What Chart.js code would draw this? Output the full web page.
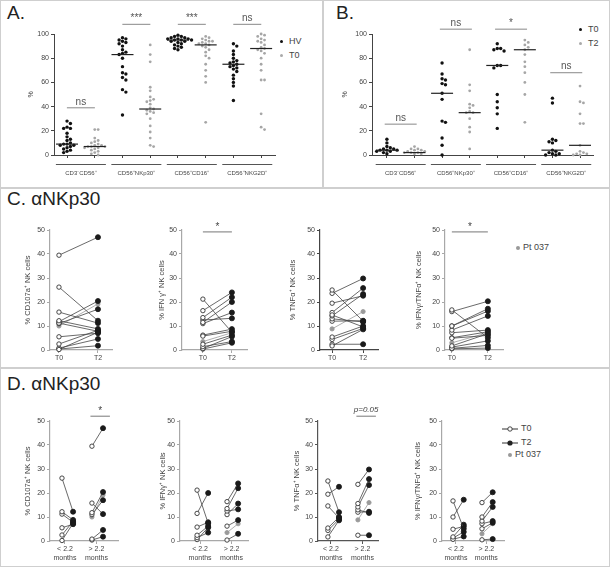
<!DOCTYPE html>
<html>
<head>
<meta charset="utf-8">
<script src="https://cdn.jsdelivr.net/npm/chart.js@4.4.0/dist/chart.umd.min.js"></script>
<style>
body { margin: 0; background: #fff; font-family: "Liberation Sans", Arial, sans-serif; }
#fig { position: relative; width: 610px; height: 568px; overflow: hidden; background: #fff; }
#fig canvas { position: absolute; }
.box { position: absolute; border: 1.5px solid #cfcfcf; box-sizing: border-box; }
.ttl { position: absolute; font-size: 19px; color: #222; line-height: 20px; white-space: nowrap; }
.leg { position: absolute; font-size: 9px; color: #444; line-height: 10px; white-space: nowrap; }
.dot { display: inline-block; width: 3px; height: 3px; border-radius: 50%; margin-right: 6px; vertical-align: middle; }
</style>
</head>
<body>
<div id="fig">
  <div class="box" style="left:0;top:0;width:324px;height:189px"></div>
  <div class="box" style="left:322px;top:0;width:288px;height:189px"></div>
  <div class="box" style="left:0;top:187px;width:610px;height:182px"></div>
  <div class="box" style="left:0;top:367px;width:610px;height:200px"></div>

  <div class="ttl" style="left:7px;top:3px">A.</div>
  <div class="ttl" style="left:336px;top:3px">B.</div>
  <div class="ttl" style="left:7px;top:189px">C. αNKp30</div>
  <div class="ttl" style="left:7px;top:374px">D. αNKp30</div>

  <div class="leg" style="left:280px;top:36px"><span class="dot" style="background:#111"></span>HV</div>
  <div class="leg" style="left:280px;top:50px"><span class="dot" style="background:#aaa"></span>T0</div>
  <div class="leg" style="left:579px;top:24px"><span class="dot" style="background:#111"></span>T0</div>
  <div class="leg" style="left:579px;top:38px"><span class="dot" style="background:#aaa"></span>T2</div>

  <div class="leg" style="left:516px;top:242px"><span class="dot" style="background:#999;width:4px;height:4px;margin-right:3px"></span>Pt 037</div>

  <div class="leg" style="left:502px;top:423px">
    <svg width="16" height="8" style="vertical-align:middle;margin-right:3px"><line x1="0" y1="4" x2="16" y2="4" stroke="#333" stroke-width="1"/><circle cx="8" cy="4" r="2.2" fill="#fff" stroke="#333" stroke-width="0.9"/></svg>T0</div>
  <div class="leg" style="left:502px;top:437px">
    <svg width="16" height="8" style="vertical-align:middle;margin-right:3px"><line x1="0" y1="4" x2="16" y2="4" stroke="#333" stroke-width="1"/><circle cx="8" cy="4" r="2.6" fill="#222"/></svg>T2</div>
  <div class="leg" style="left:508px;top:449px"><span class="dot" style="background:#999;width:4px;height:4px;margin-right:3px"></span>Pt 037</div>
</div>

<script>
// ---- panel A: HV vs T0 (% of NK cells) ----
const groupsA = ["CD3⁻CD56⁺", "CD56⁺NKp30⁺", "CD56⁺CD16⁺", "CD56⁺NKG2D⁺"];
const hvA = [
    [28, 26, 23, 22, 22, 18, 15, 13, 12, 10, 9, 9, 8, 8, 7, 6, 5, 4, 3, 2],
    [97, 96, 95, 94, 93, 92, 90, 87, 85, 84, 83, 80, 73, 68, 67, 64, 62, 54, 52, 33],
    [99, 98, 98, 97, 97, 96, 96, 96, 95, 95, 95, 94, 94, 93, 92, 91, 90, 89, 88, 87],
    [92, 90, 86, 83, 80, 78, 77, 76, 75, 74, 73, 72, 71, 69, 66, 63, 60, 57, 45],
];
const t0A = [
    [21, 21, 14, 12, 11, 10, 9, 8, 8, 7, 7, 7, 6, 6, 5, 4, 3, 2, 1, 0],
    [91, 83, 77, 56, 53, 48, 46, 45, 44, 42, 39, 38, 37, 36, 35, 34, 30, 24, 19, 14, 8, 7],
    [98, 97, 96, 95, 94, 94, 93, 92, 92, 91, 90, 89, 87, 85, 82, 80, 75, 70, 65, 60, 27],
    [100, 99, 98, 96, 95, 94, 93, 91, 89, 88, 87, 86, 84, 80, 75, 70, 62, 62, 34, 23, 21],
];
const medHvA = [9, 83, 95, 75];
const medT0A = [7, 38, 91, 88];
const sigA = ["ns", "***", "***", "ns"];

// ---- panel B: T0 vs T2 ----
const groupsB = ["CD3⁻CD56⁺", "CD56⁺NKp30⁺", "CD56⁺CD16⁺", "CD56⁺NKG2D⁺"];
const t0B = [
    [13, 10, 7, 6, 5, 5, 4, 4, 4, 3, 3, 2, 1],
    [76, 67, 63, 62, 59, 58, 51, 46, 28, 27, 14, 8, 0],
    [92, 88, 88, 87, 86, 74, 74, 72, 50, 44, 39, 34, 22],
    [47, 43, 13, 12, 11, 10, 4, 3, 2, 1, 1, 0, 0],
];
const t2B = [
    [7, 5, 5, 4, 4, 3, 3, 2, 2, 2, 1, 1],
    [87, 58, 53, 42, 41, 39, 36, 35, 35, 30, 23, 19, 5],
    [95, 93, 91, 89, 87, 83, 77, 73, 68, 60, 50, 27],
    [57, 44, 43, 34, 26, 26, 8, 3, 2, 1, 1, 0, 0],
];
const medT0B = [4, 51, 74, 4];
const medT2B = [2, 35, 87, 8];
const sigB = ["ns", "ns", "*", "ns"];

// ---- panels C/D: paired T0 -> T2, split by time (< 2.2 / > 2.2 months) ----
const cd107aT0_lt = [26.2, 12.2, 11.2, 5.5, 2.5, 0.2];
const cd107aT2_lt = [12.2, 8.8, 7.8, 7.0, 8.2, 7.4];
const cd107aT0_gt = [39.5, 15.8, 11.8, 11.0, 0.8, 0.4];
const cd107aT2_gt = [47, 11.2, 20.4, 17, 4.6, 1.8];

const ifngT0_lt = [21.2, 11.5, 5.8, 2.4, 1.4, 0.6];
const ifngT2_lt = [7.4, 20.0, 7.8, 6.2, 3.5, 5.6];
const ifngT0_gt = [16.4, 13.5, 12.5, 11.0, 6.2, 0.4];
const ifngT2_gt = [24.0, 22.0, 13.2, 15.6, 8.7, 3.0];

const tnfaT0_lt = [25, 19.5, 14.6, 5.4, 4.4, 1.7];
const tnfaT2_lt = [12.0, 22.6, 9.6, 10.0, 9.0, 8.6];
const tnfaT0_gt = [23.6, 15.6, 14.2, 13.0, 12.0, 2.4];
const tnfaT2_gt = [29.8, 25.8, 23.3, 11.7, 12.2, 2.4];

const dualT0_lt = [16.7, 10.0, 4.9, 1.7, 0.7, 1.2];
const dualT2_lt = [5.1, 17.2, 6.1, 6.8, 1.9, 3.8];
const dualT0_gt = [16.0, 10.0, 8.3, 7.2, 5.1, 0.5];
const dualT2_gt = [20.3, 16.2, 14.2, 8.3, 7.6, 0.8];

// patient 037 (gray), order: CD107a, IFNg, TNFa, IFNg/TNFa
const pt037T0 = [10.0, 3.5, 8.8, 3.0];
const pt037T2 = [19.2, 7.2, 16.0, 7.2];

const yTitles = ["% CD107a⁺ NK cells", "% IFN γ⁺ NK cells", "% TNFα⁺ NK cells", "% IFNγ/TNFα⁺ NK cells"];
const yTitlesD = ["% CD107a⁺ NK cells", "% IFNγ⁺ NK cells", "% TNFα⁺ NK cells", "% IFNγ/TNFα⁺ NK cells"];
const sigC = ["", "*", "", "*"];
const sigD = ["*", "", "p=0.05", ""];
const timeLabels = [["< 2.2", "months"], ["> 2.2", "months"]];

//////////////////////////////

const FONT = '"Liberation Sans", Arial, sans-serif';
Chart.defaults.font.family = FONT;
Chart.defaults.color = "#444";

const fig = document.getElementById("fig");

function make_canvas(box) {
    const c = document.createElement("canvas");
    c.width = box.L2 - box.L;
    c.height = box.T2 - box.T;
    c.style.left = box.L + "px";
    c.style.top = box.T + "px";
    fig.appendChild(c);
    return c;
}

// spread close values sideways (beeswarm), returns x offsets in category units
function swarm(vals, pxX, pxY, d) {
    const placed = [];
    return vals.map(v => {
        const py = v * pxY;
        let off = 0;
        for (let k = 0; k < 30; k++) {
            off = k === 0 ? 0 : (k % 2 ? 1 : -1) * Math.ceil(k / 2) * d;
            if (placed.every(p => (p.x - off) ** 2 + (p.y - py) ** 2 >= d * d)) break;
        }
        placed.push({x: off, y: py});
        return off / pxX;
    });
}

const dotExtras = {
    id: "dotExtras",
    afterDatasetsDraw(chart, args, o) {
        const {ctx, scales: {x, y}} = chart;
        ctx.save();
        ctx.lineCap = "butt";
        // medians
        o.medians.forEach((m, i) => {
            const xc = x.getPixelForValue(i + 1);
            const yy = y.getPixelForValue(m);
            ctx.strokeStyle = "#222";
            ctx.lineWidth = 1.2;
            ctx.beginPath();
            ctx.moveTo(xc - 11, yy);
            ctx.lineTo(xc + 11, yy);
            ctx.stroke();
        });
        const y0 = y.getPixelForValue(0);
        o.groups.forEach((g, i) => {
            const xa = x.getPixelForValue(2 * i + 1);
            const xb = x.getPixelForValue(2 * i + 2);
            const xc = (xa + xb) / 2;
            // group underline + label
            ctx.strokeStyle = "#555";
            ctx.lineWidth = 1;
            ctx.beginPath();
            ctx.moveTo(xc - 25, y0 + 9.5);
            ctx.lineTo(xc + 25, y0 + 9.5);
            ctx.stroke();
            ctx.fillStyle = "#444";
            ctx.font = "6px " + FONT;
            ctx.textAlign = "center";
            ctx.textBaseline = "middle";
            ctx.fillText(g, xc, y0 + 18.5);
            // significance
            const ys = y.getPixelForValue(o.sigLevels[i]);
            ctx.strokeStyle = "#888";
            ctx.lineWidth = 1;
            ctx.beginPath();
            ctx.moveTo(xc - o.sigHalf, ys);
            ctx.lineTo(xc + o.sigHalf, ys);
            ctx.stroke();
            ctx.fillStyle = "#555";
            ctx.font = "10px " + FONT;
            ctx.textBaseline = "bottom";
            ctx.fillText(o.sig[i], xc, ys - 1);
        });
        ctx.restore();
    }
};

function dot_chart(box, plot, range, a, b, colA, colB, medians, groups, sig, sigLevels, sigHalf, titleX) {
    const cv = make_canvas(box);
    const pxX = (plot.r - plot.l) / (range[1] - range[0]);
    const pxY = (plot.b - plot.t) / 100;
    const mk = (sets, col) => {
        const pts = [];
        sets.forEach((vals, g) => {
            const offs = swarm(vals, pxX, pxY, 3.4);
            vals.forEach((v, k) => pts.push({x: 2 * g + col + offs[k], y: v}));
        });
        return pts;
    };
    return new Chart(cv, {
        type: "scatter",
        data: {
            datasets: [
                {data: mk(a, 1), pointRadius: 1.7, pointBackgroundColor: colA, pointBorderWidth: 0, clip: false},
                {data: mk(b, 2), pointRadius: 1.4, pointBackgroundColor: colB, pointBorderWidth: 0, clip: false},
            ],
        },
        options: {
            responsive: false,
            animation: false,
            devicePixelRatio: 1,
            events: [],
            layout: {padding: {left: 0, top: plot.t - box.T, right: box.L2 - plot.r, bottom: 0}},
            plugins: {
                legend: {display: false},
                tooltip: {enabled: false},
                dotExtras: {medians, groups, sig, sigLevels, sigHalf},
            },
            scales: {
                x: {
                    type: "linear", min: range[0], max: range[1],
                    afterBuildTicks: s => { s.ticks = [1, 2, 3, 4, 5, 6, 7, 8].map(v => ({value: v})); },
                    afterFit: s => { s.height = box.T2 - plot.b; },
                    ticks: {callback: () => "", autoSkip: false},
                    grid: {drawOnChartArea: false, drawTicks: true, tickLength: 3, color: "#444"},
                    border: {color: "#444", width: 1},
                },
                y: {
                    min: 0, max: 100,
                    afterFit: s => { s.width = plot.l - box.L; },
                    ticks: {stepSize: 20, font: {size: 7}, padding: 2, color: "#444"},
                    grid: {drawOnChartArea: false, drawTicks: true, tickLength: 3, color: "#444"},
                    border: {color: "#444", width: 1},
                    title: {display: true, text: "%", font: {size: 7}, color: "#444",
                            padding: {top: titleX - box.L - 4.2, bottom: 0}},
                },
            },
        },
        plugins: [dotExtras],
    });
}

dot_chart({L: 2, T: 2, L2: 321, T2: 186}, {l: 54, t: 34, r: 275, b: 155}, [0.53, 8.5],
    hvA, t0A, "#111", "#a6a6a6", [medHvA[0], medT0A[0], medHvA[1], medT0A[1], medHvA[2], medT0A[2], medHvA[3], medT0A[3]],
    groupsA, sigA, [39, 108, 108, 108], 14, 31);

dot_chart({L: 325, T: 2, L2: 607, T2: 186}, {l: 372, t: 34, r: 593, b: 155}, [0.46, 8.47],
    t0B, t2B, "#111", "#a6a6a6", [medT0B[0], medT2B[0], medT0B[1], medT2B[1], medT0B[2], medT2B[2], medT0B[3], medT2B[3]],
    groupsB, sigB, [25.5, 104, 104, 68], 16, 345);

//////////////////////////////

const pairExtras = {
    id: "pairExtras",
    afterDraw(chart, args, o) {
        if (!o.text) return;
        const {ctx, scales: {x, y}} = chart;
        const x0 = x.getPixelForValue(o.from);
        const x1 = x.getPixelForValue(o.to);
        const yy = y.getPixelForValue(o.level);
        ctx.save();
        ctx.strokeStyle = "#777";
        ctx.lineWidth = 1;
        ctx.beginPath();
        ctx.moveTo(x0, yy);
        ctx.lineTo(x1, yy);
        ctx.stroke();
        ctx.fillStyle = "#444";
        ctx.font = (o.italic ? "italic 8px " : "10px ") + FONT;
        ctx.textAlign = "center";
        ctx.textBaseline = "bottom";
        ctx.fillText(o.text, (x0 + x1) / 2, yy - (o.italic ? 2 : 0));
        ctx.restore();
    }
};

function pair_dataset(x0, x1, a, b, pt) {
    const lc = pt ? "#9a9a9a" : "#444";
    return {
        data: [{x: x0, y: a}, {x: x1, y: b}],
        showLine: true,
        borderColor: lc,
        borderWidth: 0.8,
        pointRadius: pt ? 2.1 : [2.2, 2.5],
        pointBackgroundColor: pt ? "#9a9a9a" : ["#fff", "#1a1a1a"],
        pointBorderColor: pt ? "#9a9a9a" : ["#333", "#1a1a1a"],
        pointBorderWidth: 0.9,
        clip: false,
    };
}

function pair_chart(box, plot, range, datasets, ticks, tickLabels, yTitle, titleX, axisColor, sig) {
    const cv = make_canvas(box);
    return new Chart(cv, {
        type: "scatter",
        data: {datasets},
        options: {
            responsive: false,
            animation: false,
            devicePixelRatio: 1,
            events: [],
            layout: {padding: {left: 0, top: plot.t - box.T, right: box.L2 - plot.r, bottom: 0}},
            plugins: {
                legend: {display: false},
                tooltip: {enabled: false},
                pairExtras: sig,
            },
            scales: {
                x: {
                    type: "linear", min: range[0], max: range[1],
                    afterBuildTicks: s => { s.ticks = ticks.map(v => ({value: v})); },
                    afterFit: s => { s.height = box.T2 - plot.b; },
                    ticks: {callback: (v, i) => tickLabels[i], autoSkip: false, maxRotation: 0,
                            font: {size: 7}, padding: 1, color: "#444"},
                    grid: {drawOnChartArea: false, drawTicks: true, tickLength: 3, color: axisColor},
                    border: {color: axisColor, width: 1.2},
                },
                y: {
                    min: 0, max: 50,
                    afterFit: s => { s.width = plot.l - box.L; },
                    ticks: {stepSize: 10, font: {size: 7}, padding: 2, color: "#444"},
                    grid: {drawOnChartArea: false, drawTicks: true, tickLength: 3, color: axisColor},
                    border: {color: axisColor, width: 1.2},
                    title: {display: true, text: yTitle, font: {size: 7.5}, color: "#444",
                            padding: {top: titleX - box.L - 4.5, bottom: 0}},
                },
            },
        },
        plugins: [pairExtras],
    });
}

const measures = [
    [cd107aT0_lt, cd107aT2_lt, cd107aT0_gt, cd107aT2_gt],
    [ifngT0_lt, ifngT2_lt, ifngT0_gt, ifngT2_gt],
    [tnfaT0_lt, tnfaT2_lt, tnfaT0_gt, tnfaT2_gt],
    [dualT0_lt, dualT2_lt, dualT0_gt, dualT2_gt],
];

// per subplot: y-axis x, axis end x, x range, y title x, axis colour
const layoutC = [
    {l: 50, r: 112, range: [-0.23, 1.36], tx: 28, col: "#a8a8a8"},
    {l: 182, r: 247, range: [-0.72, 1.52], tx: 162, col: "#a8a8a8"},
    {l: 320, r: 378, range: [-0.39, 1.48], tx: 293, col: "#444"},
    {l: 445, r: 503, range: [-0.19, 1.42], tx: 419, col: "#a8a8a8"},
];
const layoutD = [
    {l: 50, r: 118, range: [-0.4, 1.87], tx: 28, col: "#a8a8a8"},
    {l: 180, r: 248, range: [-0.57, 1.7], tx: 163, col: "#a8a8a8"},
    {l: 318, r: 378, range: [-0.33, 1.67], tx: 297, col: "#555"},
    {l: 442, r: 504, range: [-0.38, 1.76], tx: 418, col: "#a8a8a8"},
];

measures.forEach(([t0l, t2l, t0g, t2g], m) => {
    // C: all patients pooled
    const lc = layoutC[m];
    const dsC = [];
    t0l.forEach((v, i) => dsC.push(pair_dataset(0, 1, v, t2l[i], false)));
    t0g.forEach((v, i) => dsC.push(pair_dataset(0, 1, v, t2g[i], false)));
    dsC.push(pair_dataset(0, 1, pt037T0[m], pt037T2[m], true));
    pair_chart({L: lc.l - 40, T: 212, L2: lc.r + 8, T2: 366}, {l: lc.l, t: 230, r: lc.r, b: 350},
        lc.range, dsC, [0, 1], ["T0", "T2"], yTitles[m], lc.tx, lc.col,
        {text: sigC[m], from: 0, to: 1, level: 49.2});

    // D: split by time since diagnosis
    const ld = layoutD[m];
    const dsD = [];
    t0l.forEach((v, i) => dsD.push(pair_dataset(0, 0.37, v, t2l[i], false)));
    t0g.forEach((v, i) => dsD.push(pair_dataset(1, 1.37, v, t2g[i], false)));
    dsD.push(pair_dataset(1, 1.37, pt037T0[m], pt037T2[m], true));
    pair_chart({L: ld.l - 40, T: 398, L2: ld.r + 8, T2: 565}, {l: ld.l, t: 421, r: ld.r, b: 541},
        ld.range, dsD, [0.1, 1.15], timeLabels, yTitlesD[m], ld.tx, ld.col,
        {text: sigD[m], from: 0.95, to: 1.6, level: 52, italic: sigD[m].startsWith("p")});
});
</script>
</body>
</html>
